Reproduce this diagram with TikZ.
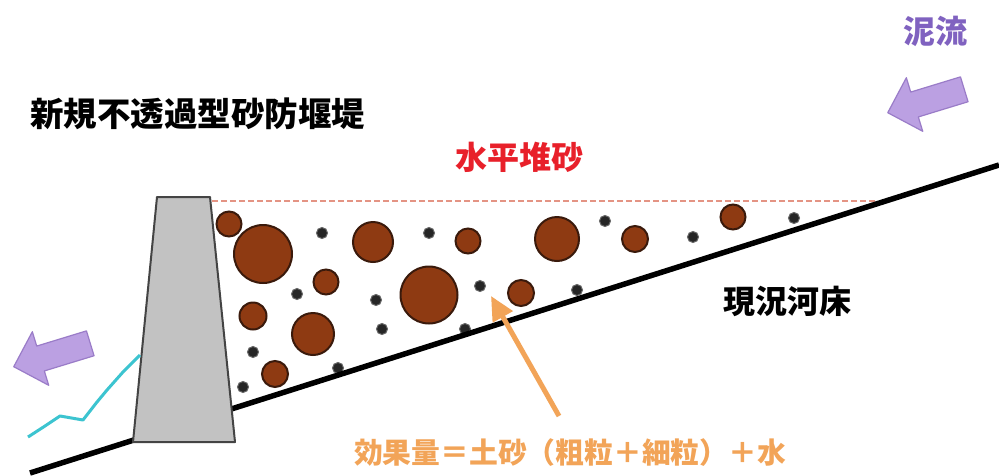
\documentclass[tikz,border=0pt]{standalone}
\usepackage{fontspec}
\setmainfont{Noto Sans CJK JP}
\usetikzlibrary{arrows.meta}
\definecolor{damfill}{HTML}{C2C2C2}
\definecolor{damedge}{HTML}{444444}
\definecolor{rockfill}{HTML}{8E3A12}
\definecolor{rockedge}{HTML}{3A1A0C}
\definecolor{flowfill}{HTML}{BBA0E2}
\definecolor{flowedge}{HTML}{9A7CC8}
\definecolor{flowtext}{HTML}{8062C0}
\definecolor{levelred}{HTML}{E8202A}
\definecolor{levelline}{HTML}{E49484}
\definecolor{effect}{HTML}{F2A458}
\definecolor{water}{HTML}{3CC4D0}
\begin{document}
\begin{tikzpicture}[x=1pt,y=-1pt,
  boulder/.style={circle,draw=rockedge,line width=2pt,fill=rockfill,inner sep=0pt},
  grain/.style={circle,fill=black!85,draw=black!60,line width=1pt,inner sep=0pt,minimum size=11pt},
  label/.style={inner sep=0pt,font=\bfseries\fontsize{32}{36}\selectfont},
  flowarrow/.pic={\draw[draw=flowedge,fill=flowfill,line width=1.2pt,line join=round]
    (-40,0) -- (-12,28) -- (-12,13) -- (40,13) -- (40,-13) -- (-12,-13) -- (-12,-28) -- cycle;},
  bed/.style={line width=5.5pt,black},
  level/.style={levelline,line width=1.3pt,dash pattern=on 6pt off 3pt},
  pointer/.style={effect,line width=5pt,-{Triangle[width=22pt,length=24pt]}}]
\useasboundingbox (0,0) rectangle (999,475);
\fill[white] (0,0) rectangle (999,475);

% horizontal deposition level
\coordinate (lvlL) at (212,201);
\coordinate (lvlR) at (877,201);
\draw[level] (lvlL) -- (lvlR);

% coarse sediment
\node[boulder,minimum size=25pt] (r1) at (229,224) {};
\node[boulder,minimum size=58pt] (r2) at (263,254) {};
\node[boulder,minimum size=40pt] (r3) at (373,242) {};
\node[boulder,minimum size=25pt] (r4) at (326,282) {};
\node[boulder,minimum size=27pt] (r5) at (253,316) {};
\node[boulder,minimum size=42pt] (r6) at (313,334) {};
\node[boulder,minimum size=26pt] (r7) at (275,374) {};
\node[boulder,minimum size=25pt] (r8) at (468,241) {};
\node[boulder,minimum size=44pt] (r9) at (557,239) {};
\node[boulder,minimum size=26pt] (r10) at (635,239) {};
\node[boulder,minimum size=25pt] (r11) at (733,217) {};
\node[boulder,minimum size=57pt] (r12) at (429,295) {};
\node[boulder,minimum size=26pt] (r13) at (521,293) {};

% fine sediment
\node[grain] (g1) at (322,233) {};
\node[grain] (g2) at (297,294) {};
\node[grain] (g3) at (376,300) {};
\node[grain] (g4) at (382,329) {};
\node[grain] (g5) at (253,352) {};
\node[grain] (g6) at (243,387) {};
\node[grain] (g7) at (338,368) {};
\node[grain] (g8) at (429,233) {};
\node[grain] (g9) at (605,221) {};
\node[grain] (g10) at (693,237) {};
\node[grain] (g11) at (794,218) {};
\node[grain] (g12) at (480,286) {};
\node[grain] (g13) at (577,290) {};
\node[grain] (g14) at (465,329) {};

% existing river bed
\coordinate (bedL) at (30,473);
\coordinate (bedR) at (999,165);
\draw[bed] (bedL) -- (bedR);

% dam body
\draw[fill=damfill,draw=damedge,line width=2pt,line join=round]
  (157,197) -- (210,197) -- (235,442) -- (133,442) -- cycle;

% seepage water downstream
\coordinate (wA) at (28,437);
\coordinate (wB) at (140,355);
\draw[water,line width=3pt,line join=round]
  (wA) -- (45,426) -- (60,416) -- (83,420) -- (97,402) -- (107,390) -- (123,372) -- (wB);

% debris flow direction
\pic[rotate=17] (flowin) at (926,101) {flowarrow};
\pic[rotate=17] (flowout) at (52,355) {flowarrow};

% labels
\node[label,font=\bfseries\fontsize{33.5}{38}\selectfont] (dam) at (198,114) {新規不透過型砂防堰堤};
\node[label,text=flowtext] (mud) at (935,31) {泥流};
\node[label,text=levelred] (lvl) at (519,157) {水平堆砂};
\node[label] (bedtxt) at (787,301) {現況河床};
\node[inner sep=0pt,text=effect,font=\bfseries\fontsize{28.8}{32}\selectfont] (eff) at (570,453)
  {効果量＝土砂（粗粒＋細粒）＋水};

% pointer to the deposit
\coordinate (ptail) at (559,416);
\coordinate (ptip) at (491,296);
\draw[pointer] (ptail) -- (ptip);
\end{tikzpicture}
\end{document}
